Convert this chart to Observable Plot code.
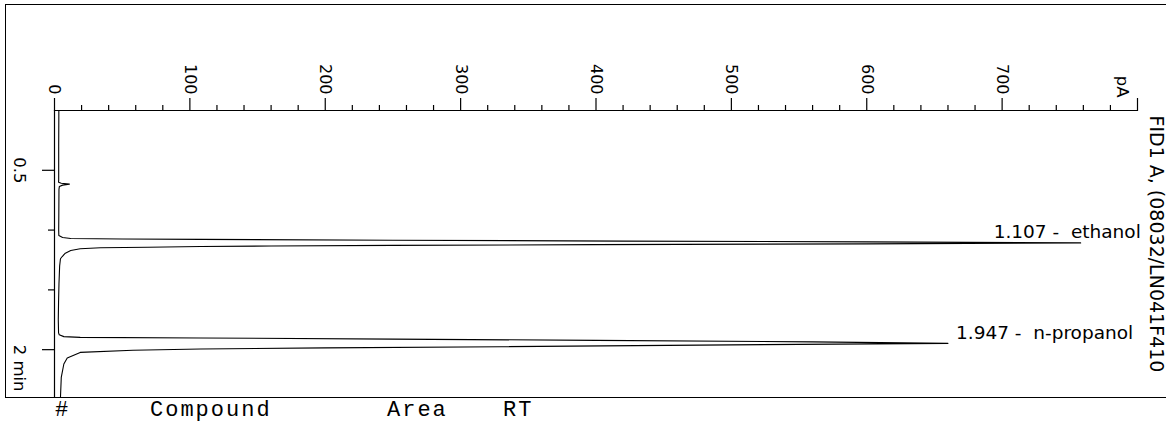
<!DOCTYPE html>
<html>
<head>
<meta charset="utf-8">
<script src="https://cdn.jsdelivr.net/npm/d3@7"></script>
<script src="https://cdn.jsdelivr.net/npm/@observablehq/plot@0.6"></script>
<style>
  html, body { margin: 0; padding: 0; background: white; }
  #wrap { position: relative; width: 1167px; height: 425px; overflow: hidden; background: white; }
  #border { position: absolute; left: 5px; top: 4px; width: 1160px; height: 392px;
            border-left: 1.5px solid black; border-top: 1.5px solid black; border-bottom: 1.5px solid black; }
  #header { position: absolute; left: 0; top: 400px; width: 1167px; height: 25px;
            font-family: "Liberation Mono", "DejaVu Sans Mono", monospace; font-size: 22px; letter-spacing: 2px; color: black; }
  #header span { position: absolute; top: 0px; line-height: 22px; }
  svg text { white-space: pre; }
  #chart { position: absolute; left: 0; top: 0; }
</style>
</head>
<body>
<div id="wrap">
  <div id="chart"></div>
  <div id="border"></div>
  <div id="header"></div>
</div>
<script>
// ---- data ----
// retention time (min) and detector signal (pA)
const times  = [0, 0.05, 0.30, 0.58, 0.600, 0.608, 0.616, 0.624, 0.635, 0.66, 0.85, 1.00,
                1.045, 1.062, 1.070, 1.074, 1.078, 1.085, 1.092, 1.099, 1.107, 1.115, 1.122,
                1.128, 1.133, 1.137, 1.143, 1.148, 1.156, 1.171, 1.193, 1.221, 1.240, 1.30,
                1.45, 1.60, 1.75, 1.86, 1.875, 1.891, 1.897, 1.902, 1.912, 1.922, 1.935, 1.947,
                1.960, 1.975, 1.985, 1.994, 2.005, 2.023, 2.070, 2.120, 2.232, 2.400];
const signal = [3.2, 3.2, 3.1, 3.1, 3.0, 5, 11, 6, 3.6, 3.3, 3.2, 3.1,
                3.2, 6, 12, 50, 108, 250, 420, 600, 758, 600, 400,
                250, 160, 108, 69, 34, 19, 12, 8, 5.7, 4.4, 3.8,
                3.3, 3.0, 2.8, 3.0, 3.5, 6.9, 19, 108, 250, 400, 560, 660,
                500, 330, 200, 108, 58, 19, 9.4, 6.9, 5.0, 4.4];

const peakRT      = [1.107, 1.947];
const peakNames   = ["ethanol", "n-propanol"];
const peakHeights = [758, 660];

const xMajorTicks = [0, 100, 200, 300, 400, 500, 600, 700, 800];
const xLabelTicks = [0, 100, 200, 300, 400, 500, 600, 700];
const xLabels     = ["0", "100", "200", "300", "400", "500", "600", "700"];
const xMinorTicks = d3.range(20, 800, 20).filter(v => v % 100 !== 0);
const yMajorTicks = [0.5, 2];
const yMinorTicks = [1, 1.5];
const yLabels     = ["0.5", "2 min"];
const signalTitle = "FID1 A, (08032/LN041F410";
const unitLabel   = "pA";
const headerWords = ["#", "Compound", "Area", "RT"];

// ---- build ----
const trace = times.map((t, i) => ({t, pA: signal[i]}));
const peaks = peakRT.map((rt, i) => ({rt, h: peakHeights[i], label: `${rt.toFixed(3)} -  ${peakNames[i]}`}));

const chart = Plot.plot({
  width: 1167,
  height: 400,
  marginTop: 110,
  marginBottom: 3,
  marginLeft: 54,
  marginRight: 30,
  style: {fontFamily: "DejaVu Sans", color: "black", background: "transparent", overflow: "visible"},
  x: {domain: [0, 800]},
  y: {domain: [0, 2.4], reverse: true},
  marks: [
    Plot.ruleY([0], {stroke: "black", strokeWidth: 1.2}),
    Plot.ruleX([0], {stroke: "black", strokeWidth: 1.2}),
    Plot.axisX({anchor: "top", ticks: xMajorTicks, tickSize: 13, tickFormat: () => "", label: null, strokeWidth: 1.2}),
    Plot.axisX({anchor: "top", ticks: xMinorTicks, tickSize: 6, tickFormat: () => "", label: null, strokeWidth: 1.2}),
    Plot.axisY({anchor: "left", ticks: yMajorTicks, tickSize: 12, tickFormat: () => "", label: null, strokeWidth: 1.2}),
    Plot.axisY({anchor: "left", ticks: yMinorTicks, tickSize: 6, tickFormat: () => "", label: null, strokeWidth: 1.2}),
    Plot.text(xLabelTicks, {x: d => d, text: (d, i) => xLabels[i], frameAnchor: "top", rotate: 90,
      textAnchor: "end", lineAnchor: "middle", dy: -16, fontSize: 16, fill: "black"}),
    Plot.text([800], {x: d => d, text: () => unitLabel, frameAnchor: "top", rotate: 90,
      textAnchor: "end", lineAnchor: "middle", dx: -15, dy: -13, fontSize: 16.5, fill: "black"}),
    Plot.text([yMajorTicks[0]], {y: d => d, text: () => yLabels[0], frameAnchor: "left", rotate: 90,
      textAnchor: "middle", lineAnchor: "middle", dx: -35, fontSize: 16.5, fill: "black"}),
    Plot.text([yMajorTicks[1]], {y: d => d, text: () => yLabels[1], frameAnchor: "left", rotate: 90,
      textAnchor: "start", lineAnchor: "middle", dx: -35, dy: -5, fontSize: 16.5, fill: "black"}),
    Plot.text([signalTitle], {text: d => d, frameAnchor: "top-right", rotate: 90,
      textAnchor: "start", lineAnchor: "bottom", dx: 12, dy: 5, fontSize: 19, fill: "black"}),
    Plot.line(trace, {x: "pA", y: "t", stroke: "black", strokeWidth: 1.1}),
    Plot.text([peaks[0]], {x: "h", y: "rt", text: "label", textAnchor: "start", lineAnchor: "bottom",
      dx: -87, dy: -4.5, fontSize: 18.5, fill: "black"}),
    Plot.text([peaks[1]], {x: "h", y: "rt", text: "label", textAnchor: "start", lineAnchor: "bottom",
      dx: 8, dy: -4.6, fontSize: 18.5, fill: "black"})
  ]
});
document.getElementById("chart").appendChild(chart);

const header = document.getElementById("header");
const headerLeft = [55, 150, 387, 503];
headerWords.forEach((w, i) => {
  const s = document.createElement("span");
  s.textContent = w;
  s.style.left = headerLeft[i] + "px";
  header.appendChild(s);
});
</script>
</body>
</html>
